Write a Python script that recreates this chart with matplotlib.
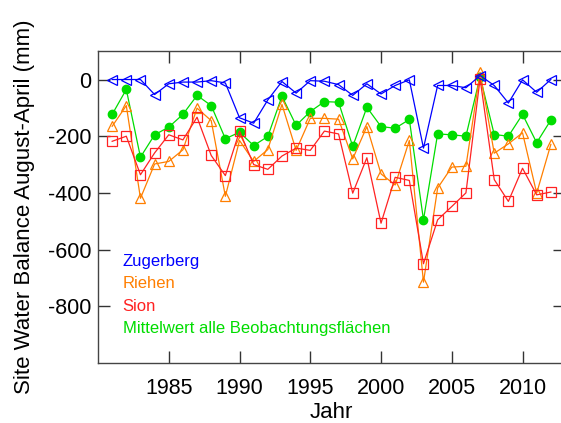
import numpy as np
import matplotlib
matplotlib.use('Agg')
from matplotlib import pyplot as plt

plt.rcParams['font.family'] = ['Liberation Sans', 'DejaVu Sans']
plt.rcParams['axes.unicode_minus'] = False

# site water balance August-April (mm) per year
years = np.arange(1981, 2013)
zugerberg = [0, 0, 0, -53, -15, -9, -9, -4, -12, -135, -154, -72, -7, -48, -4, -6,
             -18, -56, -15, -51, -21, -1, -242, -21, -21, -29, 14, -21, -83, -1, -45, 0]
riehen = [-165, -92, -419, -298, -289, -248, -101, -145, -412, -215, -289, -247, -88, -250, -137, -137,
          -140, -280, -166, -333, -372, -215, -715, -383, -309, -306, 25, -260, -227, -188, -401, -229]
sion = [-218, -200, -336, -259, -195, -213, -133, -268, -339, -182, -300, -317, -270, -242, -250, -182,
        -192, -401, -276, -507, -345, -356, -650, -495, -448, -400, 3, -353, -430, -313, -407, -397]
mittelwert = [-123, -35, -274, -195, -168, -123, -56, -92, -209, -186, -233, -201, -59, -162, -113, -78,
              -80, -236, -98, -166, -172, -141, -495, -192, -195, -200, 10, -194, -200, -123, -223, -143]

xticks = [1985, 1990, 1995, 2000, 2005, 2010]
yticks = [0, -200, -400, -600, -800]

blue = '#0000ff'
orange = '#ff7f00'
red = '#ff2222'
green = '#00dd00'

fig = plt.figure(figsize=(5.61, 4.23), dpi=100)
ax = fig.add_axes([0.1747, 0.142, 0.8324, 0.737])

ax.plot(years, mittelwert, color=green, lw=0.9, marker='o', ms=6, mfc=green, mec=green, zorder=2)
ax.plot(years, riehen, color=orange, lw=0.9, marker='^', ms=7, mfc='none', mec=orange, mew=0.9, zorder=3)
ax.plot(years, sion, color=red, lw=0.9, marker='s', ms=6.5, mfc='none', mec=red, mew=0.9, zorder=4)
ax.plot(years, zugerberg, color=blue, lw=0.9, marker='<', ms=7, mfc='none', mec=blue, mew=0.9, zorder=5)

ax.set_xlim(1980, 2013)
ax.set_ylim(-1000, 100)
ax.set_xticks(xticks)
ax.set_yticks(yticks)
ax.tick_params(direction='in', length=8.5, width=1, color='#333333', labelsize=15.5,
               top=True, right=True)
ax.tick_params(axis='x', pad=11)
ax.tick_params(axis='y', pad=5)
for s in ax.spines.values():
    s.set_color('#444444')
    s.set_linewidth(1)

ax.set_xlabel('Jahr', fontsize=16, labelpad=2)
ax.set_ylabel('Site Water Balance August-April (mm)', fontsize=16, labelpad=9)

# coloured series names instead of a legend box
names = ['Zugerberg', 'Riehen', 'Sion', 'Mittelwert alle Beobachtungsflächen']
cols = [blue, orange, red, green]
for i, (n, c) in enumerate(zip(names, cols)):
    ax.text(0.053, 0.325 - i * 0.0715, n, color=c, fontsize=12,
            transform=ax.transAxes, va='center', ha='left')

fig.savefig('out.png', dpi=100)
